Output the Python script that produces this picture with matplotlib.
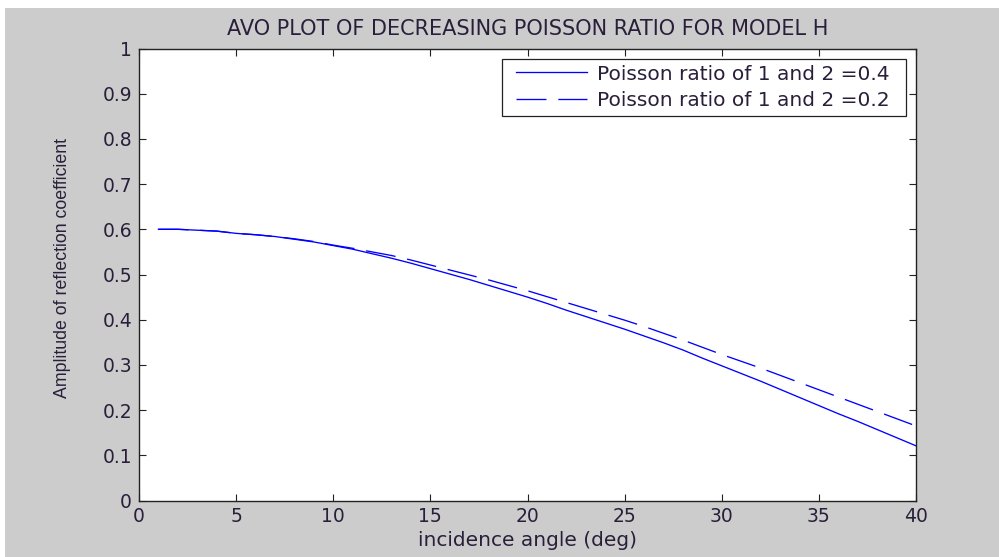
import matplotlib
matplotlib.use("Agg")
import matplotlib.pyplot as plt
from matplotlib.patches import Rectangle

angles = list(range(1, 41))
amp_nu04 = [0.600, 0.600, 0.598, 0.596, 0.591, 0.588, 0.584, 0.578, 0.572, 0.564,
            0.556, 0.546, 0.536, 0.525, 0.513, 0.501, 0.489, 0.476, 0.463, 0.450,
            0.436, 0.421, 0.407, 0.393, 0.379, 0.364, 0.349, 0.333, 0.315, 0.298,
            0.281, 0.264, 0.246, 0.228, 0.210, 0.192, 0.175, 0.157, 0.139, 0.121]
amp_nu02 = [0.600, 0.600, 0.598, 0.596, 0.591, 0.588, 0.584, 0.579, 0.573, 0.565,
            0.558, 0.550, 0.542, 0.532, 0.521, 0.510, 0.499, 0.488, 0.476, 0.464,
            0.451, 0.438, 0.425, 0.412, 0.399, 0.385, 0.370, 0.355, 0.339, 0.323,
            0.308, 0.293, 0.277, 0.261, 0.245, 0.229, 0.213, 0.197, 0.181, 0.165]
labels = ["Poisson ratio of 1 and 2 =0.4", "Poisson ratio of 1 and 2 =0.2"]
xticks = [0, 5, 10, 15, 20, 25, 30, 35, 40]
yticks = [0, 0.1, 0.2, 0.3, 0.4, 0.5, 0.6, 0.7, 0.8, 0.9, 1]
ytick_labels = ["0", "0.1", "0.2", "0.3", "0.4", "0.5", "0.6", "0.7", "0.8", "0.9", "1"]

plt.rcParams['font.family'] = ['DejaVu Sans']
txt = '#2a1f3a'
fs = 14.5
W, H = 999, 557
L, R, T, B = 139, 916, 48.5, 500.5

fig = plt.figure(figsize=(W / 100, H / 100), dpi=100, facecolor='white')
fig.patches.append(Rectangle((5 / W, 0), 1, 1 - 8 / H, transform=fig.transFigure,
                             facecolor='#cccccc', edgecolor='none', zorder=-10))
ax = fig.add_axes([L / W, 1 - B / H, (R - L) / W, (B - T) / H])
ax.set_facecolor('white')

def ax_x(px):
    return (px - L) / (R - L)

def ax_y(py):
    return (B - py) / (B - T)

lw = 0.95
ax.plot(angles, amp_nu04, color='#0000ff', lw=lw, label=labels[0])
ax.plot(angles, amp_nu02, color='#0000ff', lw=lw, dashes=(22.7, 9), label=labels[1])

ax.set_xlim(0, 40)
ax.set_ylim(0, 1)
ax.set_xticks(xticks)
ax.set_xticklabels([str(v) for v in xticks])
ax.set_yticks(yticks)
ax.set_yticklabels(ytick_labels)
ax.tick_params(direction='in', length=5, width=0.8, labelsize=13.5, colors='#222222',
               labelcolor=txt, top=True, right=True, pad=5)
for s in ax.spines.values():
    s.set_linewidth(1.0)
    s.set_color('#222222')

ax.set_title("AVO PLOT OF DECREASING POISSON RATIO FOR MODEL H", fontsize=15,
             color=txt, pad=10)
ax.set_xlabel("incidence angle (deg)", fontsize=fs, color=txt, labelpad=3)
ax.set_ylabel("Amplitude of reflection coefficient", fontsize=12.8, color=txt,
              family=['Liberation Sans', 'DejaVu Sans'])
ax.yaxis.set_label_coords(ax_x(71), ax_y(268))

# legend frame
ax.add_patch(Rectangle((ax_x(502), ax_y(115.7)), ax_x(906) - ax_x(502),
                       ax_y(59.3) - ax_y(115.7), transform=ax.transAxes,
                       facecolor='white', edgecolor='#222222', lw=0.9, zorder=4,
                       clip_on=False))
leg = ax.legend(loc='upper left', bbox_to_anchor=(ax_x(516), ax_y(64.5)), borderaxespad=0,
                frameon=False, fontsize=fs,
                handlelength=3.55, handletextpad=0.45, labelspacing=0.37,
                borderpad=0)
leg.set_zorder(5)
for t in leg.get_texts():
    t.set_color(txt)

fig.savefig("out.png", dpi=100, facecolor=fig.get_facecolor())
